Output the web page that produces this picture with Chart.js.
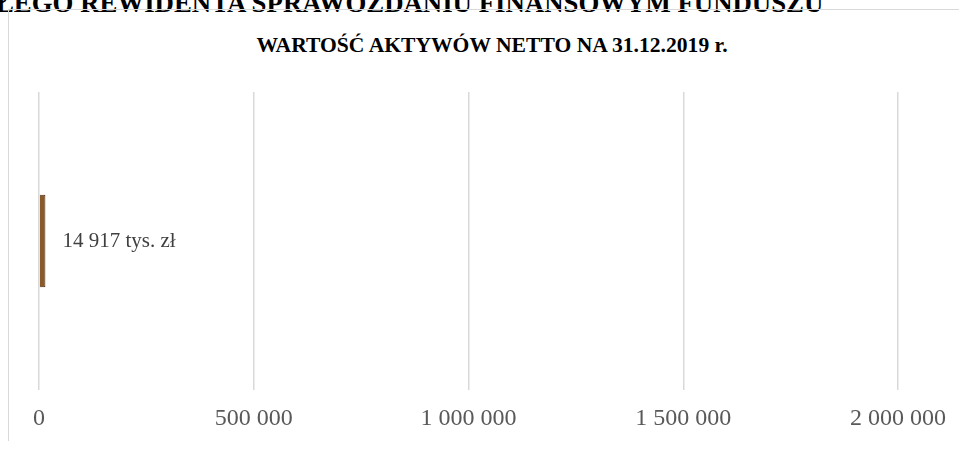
<!DOCTYPE html>
<html>
<head>
<meta charset="utf-8">
<script src="https://cdn.jsdelivr.net/npm/chart.js@4/dist/chart.umd.min.js"></script>
<style>
  html, body { margin: 0; padding: 0; background: #fff; overflow: hidden; }
  #wrap { position: relative; width: 959px; height: 451px; }
  #topText {
    position: absolute; left: -4px; top: -12px; white-space: nowrap;
    font: bold 26.8px "Liberation Serif", serif; color: #000;
  }
  #frame {
    position: absolute; left: 8px; top: 9px; width: 960px; height: 431px;
    border-left: 1px solid #d9d9d9; border-top: 1px solid #d9d9d9;
  }
  #title {
    position: absolute; left: 0; width: 984px; top: 33px; text-align: center;
    font: bold 21.6px "Liberation Serif", serif; color: #000;
  }
  canvas { position: absolute; left: 0; top: 0; }
</style>
</head>
<body>
<div id="wrap">
  <div id="topText">ŁEGO REWIDENTA SPRAWOZDANIU FINANSOWYM FUNDUSZU</div>
  <div id="frame"></div>
  <div id="title">WARTOŚĆ AKTYWÓW NETTO NA 31.12.2019 r.</div>
  <canvas id="navChart" width="959" height="451"></canvas>
</div>
<script>
// ── Data ──────────────────────────────────────────
const categories = ["WAN"];
const navValues = [14917];          // tys. zł
const dataLabels = ["14 917 tys. zł"];
const xTicks = [0, 500000, 1000000, 1500000, 2000000];
const xTickLabels = ["0", "500 000", "1 000 000", "1 500 000", "2 000 000"];

// value label drawn right of the bar end
const barLabelPlugin = {
  id: "barLabel",
  afterDatasetsDraw(chart) {
    const ctx = chart.ctx;
    const meta = chart.getDatasetMeta(0);
    ctx.save();
    ctx.font = "21px 'Liberation Serif', serif";
    ctx.fillStyle = "#404040";
    ctx.textBaseline = "middle";
    meta.data.forEach((bar, i) => {
      ctx.fillText(dataLabels[i], bar.x + 17, bar.y);
    });
    ctx.restore();
  }
};

function barFill(context) {
  const el = context.element;
  if (!el || !isFinite(el.base) || !isFinite(el.x)) return "#8a5a2b";
  const x0 = el.base, x1 = Math.max(el.x, el.base + 1);
  const g = context.chart.ctx.createLinearGradient(x0, 0, x1, 0);
  g.addColorStop(0, "#6e4218");
  g.addColorStop(0.5, "#a0672f");
  g.addColorStop(1, "#7a4b1e");
  return g;
}

new Chart(document.getElementById("navChart"), {
  type: "bar",
  data: {
    labels: categories,
    datasets: [{
      data: navValues,
      backgroundColor: barFill,
      borderColor: "#4d2e12",
      borderWidth: 1,
      barPercentage: 0.62,
      categoryPercentage: 0.5
    }]
  },
  options: {
    indexAxis: "y",
    responsive: false,
    animation: false,
    layout: { padding: { left: 39, right: 61, top: 92, bottom: 16 } },
    plugins: { legend: { display: false }, tooltip: { enabled: false } },
    scales: {
      x: {
        min: 0, max: 2000000,
        afterBuildTicks: axis => { axis.ticks = xTicks.map(v => ({ value: v })); },
        // keep the plot area fixed: no extra room for label overflow
        afterFit: axis => { axis.height = 45; axis.paddingLeft = 0; axis.paddingRight = 0; },
        border: { display: false },
        grid: { color: "#d9d9d9", lineWidth: 1.5, drawTicks: false },
        ticks: {
          padding: 14,
          color: "#595959",
          font: { size: 24, family: "'Liberation Serif', serif" },
          maxRotation: 0,
          callback: (v, i) => xTickLabels[i]
        }
      },
      y: { display: false }
    }
  },
  plugins: [barLabelPlugin]
});
</script>
</body>
</html>
